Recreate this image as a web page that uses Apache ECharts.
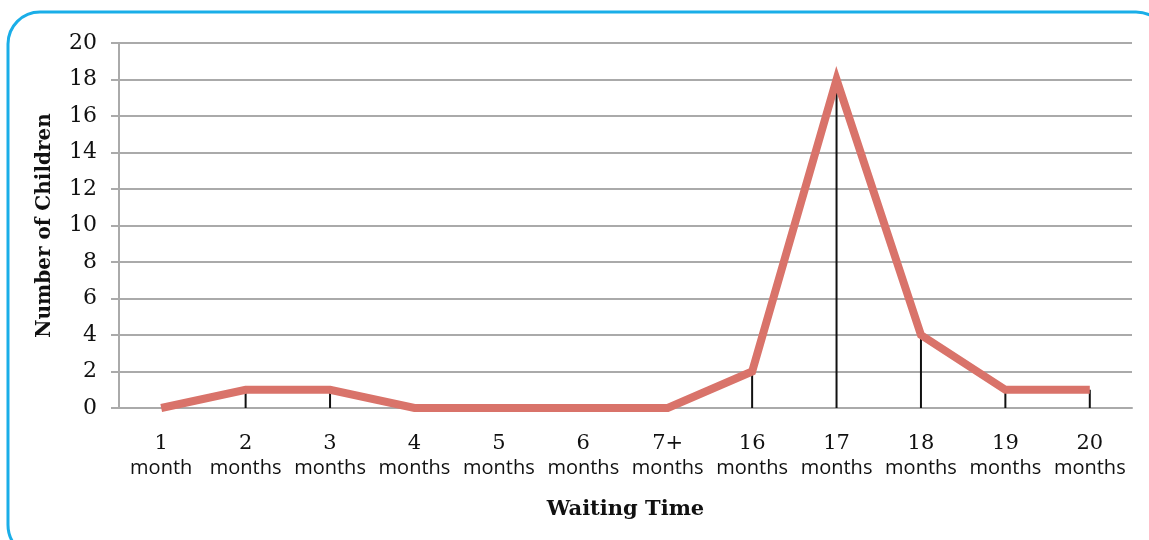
<!DOCTYPE html>
<html>
<head>
<meta charset="utf-8">
<script src="https://cdn.jsdelivr.net/npm/echarts@6/dist/echarts.min.js"></script>
<style>
  html, body { margin: 0; padding: 0; background: #fff; }
  #main { width: 1149px; height: 540px; }
</style>
</head>
<body>
<div id="main"></div>
<script>
  // 数据
  var monthNums = ['1', '2', '3', '4', '5', '6', '7+', '16', '17', '18', '19', '20']
  var monthUnits = ['month', 'months', 'months', 'months', 'months', 'months', 'months', 'months', 'months', 'months', 'months', 'months']
  var children = [0, 1, 1, 0, 0, 0, 0, 2, 18, 4, 1, 1]
  var yTicks = [0, 2, 4, 6, 8, 10, 12, 14, 16, 18, 20]

  var categories = monthNums.map(function (n, i) {
    return n + '\n' + monthUnits[i]
  })

  var myChart = echarts.init(document.getElementById('main'))
  var serif = 'DejaVu Serif, Liberation Serif, serif'
  var option = {
    animation: false,
    graphic: [
      {
        type: 'rect',
        shape: { x: 8, y: 12, width: 1160, height: 545, r: 32 },
        style: { fill: 'none', stroke: '#1aaee8', lineWidth: 3 },
        silent: true,
      },
    ],
    grid: { left: 119, right: 17, top: 43, bottom: 132 },
    xAxis: {
      type: 'category',
      data: categories,
      boundaryGap: true,
      name: 'Waiting Time',
      nameLocation: 'middle',
      nameGap: 91,
      nameTextStyle: { fontFamily: serif, fontWeight: 'bold', fontSize: 21, color: '#111' },
      axisLine: { show: true, lineStyle: { color: '#aaa', width: 2 } },
      axisTick: { show: false },
      axisLabel: {
        interval: 0,
        margin: 23,
        formatter: function (v) {
          var p = v.split('\n')
          return '{n|' + p[0] + '}\n{u|' + p[1] + '}'
        },
        rich: {
          n: { fontFamily: serif, fontSize: 21, color: '#111', lineHeight: 25 },
          u: { fontFamily: 'Open Sans, Noto Sans, sans-serif', fontSize: 20, color: '#111', lineHeight: 25 },
        },
      },
    },
    yAxis: {
      type: 'value',
      min: yTicks[0],
      max: yTicks[yTicks.length - 1],
      interval: 2,
      name: 'Number of Children',
      nameLocation: 'middle',
      nameGap: 64,
      nameTextStyle: { fontFamily: serif, fontWeight: 'bold', fontSize: 20, color: '#111' },
      axisLine: { show: true, lineStyle: { color: '#aaa', width: 2 } },
      axisTick: { show: true, length: 8, lineStyle: { color: '#aaa', width: 2 } },
      axisLabel: { fontFamily: serif, fontSize: 22, color: '#111', margin: 22 },
      splitLine: { lineStyle: { color: '#aaa', width: 2 } },
    },
    series: [
      {
        // 垂直落线
        type: 'bar',
        data: children,
        barWidth: 2,
        itemStyle: { color: '#111' },
        z: 2,
      },
      {
        type: 'line',
        data: children,
        showSymbol: false,
        lineStyle: { color: '#d9736a', width: 8, join: 'miter', cap: 'butt' },
        z: 3,
      },
    ],
  }
  myChart.setOption(option)
</script>
</body>
</html>
